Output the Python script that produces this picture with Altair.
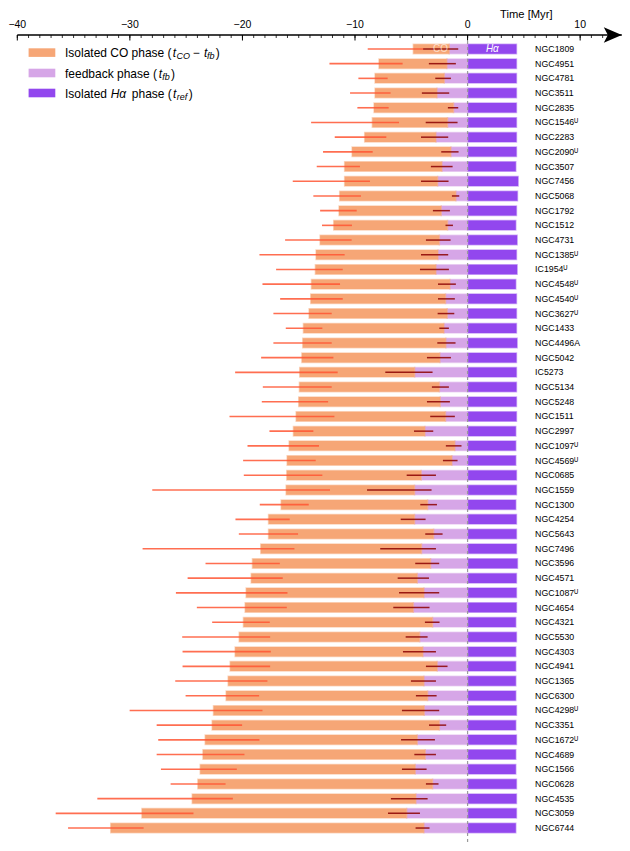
import altair as alt
import pandas as pd

FONT = "Liberation Sans"

names = ["NGC1809", "NGC4951", "NGC4781", "NGC3511", "NGC2835", "NGC1546", "NGC2283", "NGC2090",
         "NGC3507", "NGC7456", "NGC5068", "NGC1792", "NGC1512", "NGC4731", "NGC1385", "IC1954",
         "NGC4548", "NGC4540", "NGC3627", "NGC1433", "NGC4496A", "NGC5042", "IC5273", "NGC5134",
         "NGC5248", "NGC1511", "NGC2997", "NGC1097", "NGC4569", "NGC0685", "NGC1559", "NGC1300",
         "NGC4254", "NGC5643", "NGC7496", "NGC3596", "NGC4571", "NGC1087", "NGC4654", "NGC4321",
         "NGC5530", "NGC4303", "NGC4941", "NGC1365", "NGC6300", "NGC4298", "NGC3351", "NGC1672",
         "NGC4689", "NGC1566", "NGC0628", "NGC4535", "NGC3059", "NGC6744"]
flag_u = {"NGC1546", "NGC2090", "NGC1385", "IC1954", "NGC4548", "NGC4540", "NGC3627",
          "NGC1097", "NGC4569", "NGC1087", "NGC4298", "NGC1672"}

# start of isolated CO phase (= -t_CO)
co_start = [-4.82, -7.87, -8.22, -8.22, -8.31, -8.46, -9.14, -10.26, -10.92, -10.92, -11.36, -11.42,
            -11.89, -13.10, -13.46, -13.52, -13.87, -13.93, -14.08, -14.58, -14.64, -14.72, -14.91,
            -14.94, -15.00, -15.23, -15.47, -15.85, -16.03, -16.06, -16.12, -16.56, -17.68, -17.68,
            -18.37, -19.11, -19.22, -19.67, -19.76, -19.91, -20.29, -20.65, -21.09, -21.27, -21.45,
            -22.57, -22.69, -23.31, -23.51, -23.75, -23.96, -24.46, -28.93, -31.70]
# start of feedback phase (= -t_fb)
fb_start = [-1.63, -1.84, -2.07, -2.72, -1.25, -1.78, -2.81, -1.48, -2.28, -2.66, -1.04, -2.34,
            -1.78, -2.51, -2.63, -2.81, -1.57, -1.96, -1.81, -2.10, -1.93, -2.46, -4.70, -2.51,
            -2.43, -1.96, -3.79, -1.13, -1.39, -4.12, -4.71, -3.55, -4.71, -3.02, -4.09, -3.29,
            -4.47, -3.88, -4.82, -3.11, -4.26, -3.97, -2.70, -3.88, -3.55, -3.85, -2.51, -4.47,
            -3.76, -4.65, -3.11, -4.59, -5.41, -3.88]
# error range of t_CO
co_lo = [-8.87, -12.27, -9.70, -10.44, -9.79, -13.90, -11.80, -12.84, -13.40, -15.53, -13.70, -13.10,
         -12.93, -16.21, -18.49, -17.01, -18.22, -16.65, -17.25, -16.15, -17.25, -18.34, -20.65,
         -18.19, -18.28, -21.15, -17.60, -19.55, -19.94, -19.88, -28.01, -18.46, -20.62, -20.32,
         -28.87, -23.28, -24.87, -25.91, -24.05, -22.69, -25.35, -25.32, -25.32, -25.97, -25.05,
         -30.02, -27.62, -27.48, -27.62, -27.24, -26.38, -32.89, -36.59, -35.49]
co_hi = [-3.90, -5.77, -7.10, -6.84, -7.01, -6.09, -7.22, -8.43, -9.56, -8.67, -9.47, -9.85,
         -10.27, -10.30, -10.92, -11.09, -11.33, -11.09, -12.07, -12.90, -12.07, -11.92, -11.54,
         -12.07, -12.39, -11.83, -13.70, -13.20, -13.49, -12.90, -12.22, -14.11, -15.80, -15.06,
         -15.38, -16.68, -16.42, -16.00, -16.06, -17.57, -17.54, -17.48, -17.54, -17.78, -18.52,
         -18.22, -20.03, -18.49, -19.82, -20.50, -21.50, -20.85, -24.35, -28.78]
# error range of t_fb
fb_lo = [-3.94, -3.44, -2.87, -4.06, -1.75, -3.72, -4.14, -2.34, -3.26, -4.14, -1.39, -3.08,
         -1.96, -3.70, -4.14, -4.23, -2.63, -2.63, -2.66, -2.51, -2.69, -3.61, -7.31, -3.17,
         -3.61, -3.32, -4.76, -1.93, -2.19, -5.41, -8.93, -4.20, -5.94, -3.76, -7.76, -4.65,
         -6.21, -6.09, -6.60, -3.79, -5.50, -5.74, -3.70, -5.03, -4.59, -5.83, -3.43, -5.91,
         -4.73, -5.83, -3.70, -6.81, -7.07, -4.62]
fb_hi = [-0.83, -1.04, -1.48, -1.63, -0.83, -0.89, -1.72, -0.80, -1.33, -1.69, -0.74, -1.57,
         -1.30, -1.51, -1.72, -1.66, -1.04, -1.13, -1.18, -1.66, -1.07, -1.48, -3.11, -1.66,
         -1.57, -1.13, -3.05, -0.54, -0.89, -2.81, -3.20, -2.72, -3.73, -2.22, -2.81, -2.52,
         -3.43, -2.52, -3.38, -2.49, -3.55, -2.81, -1.78, -2.81, -2.75, -2.52, -1.90, -2.90,
         -2.81, -3.64, -2.58, -3.55, -4.23, -3.38]
# isolated H-alpha phase (t_ref)
t_ref = [4.34, 4.34, 4.34, 4.34, 4.34, 4.34, 4.34, 4.34, 4.28, 4.49, 4.43, 4.34,
         4.28, 4.40, 4.34, 4.40, 4.28, 4.34, 4.34, 4.34, 4.40, 4.34, 4.34, 4.34,
         4.34, 4.34, 4.28, 4.28, 4.28, 4.34, 4.34, 4.28, 4.34, 4.34, 4.34, 4.43,
         4.34, 4.34, 4.34, 4.28, 4.34, 4.28, 4.28, 4.28, 4.28, 4.34, 4.28, 4.34,
         4.28, 4.28, 4.34, 4.34, 4.34, 4.28]

X_MIN, X_MAX = -40, 13.7
tick_values = list(range(-40, 14))
major_ticks = [-40, -30, -20, -10, 0, 10]
major_labels = [str(v).replace("-", "\u2212") for v in major_ticks]
axis_title = "Time [Myr]"

labels = [n + ("\u1d41" if n in flag_u else "") for n in names]
df = pd.DataFrame({
    "name": labels, "co_start": co_start, "fb_start": fb_start, "zero": [0.0] * len(names),
    "t_ref": t_ref, "co_lo": co_lo, "co_hi": co_hi, "fb_lo": fb_lo, "fb_hi": fb_hi,
})
one = pd.DataFrame({"k": [0]})
ticks_df = pd.DataFrame({"t": tick_values})
major_df = pd.DataFrame({"t": major_ticks, "lab": major_labels})

ORANGE = "#F6A676"
LILAC = "#D6A6E7"
PURPLE = "#9247EE"
RED = "#FF5533"
DARKRED = "#8B0000"

PLOT_W, PLOT_H = 604.5, 807
xs = alt.Scale(domain=[X_MIN, X_MAX], nice=False, zero=False)
Y = alt.Y("name:N", sort=labels, axis=None, scale=alt.Scale(paddingInner=0, paddingOuter=0.45))


def xf(field):
    return alt.X(field, type="quantitative", scale=xs, axis=None)


def xd(value):
    return alt.XDatum(value, type="quantitative", scale=xs, axis=None)


def yd(value):
    return alt.YDatum(value, type="nominal", axis=None)


base = alt.Chart(df)
bar_kw = dict(size=9.5, strokeWidth=1.5, strokeOpacity=0.45)

hal = base.mark_bar(color=PURPLE, stroke=PURPLE, **bar_kw).encode(
    x=xf("zero"), x2="t_ref:Q", y=Y)
fb = base.mark_bar(color=LILAC, stroke=LILAC, **bar_kw).encode(
    x=xf("fb_start"), x2="zero:Q", y=Y)
co = base.mark_bar(color=ORANGE, stroke=ORANGE, **bar_kw).encode(
    x=xf("co_start"), x2="fb_start:Q", y=Y)
co_err = base.mark_rule(color=RED, strokeWidth=1.6, opacity=0.85).encode(
    x=xf("co_lo"), x2="co_hi:Q", y=Y)
fb_err = base.mark_rule(color=DARKRED, strokeWidth=1.5, opacity=0.85).encode(
    x=xf("fb_lo"), x2="fb_hi:Q", y=Y)
names_txt = base.mark_text(align="left", baseline="middle", font=FONT, fontSize=8.8, color="black").encode(
    x=xd(6.0), y=Y, text="name:N")

zero_line = alt.Chart(one).mark_rule(color="#9a9a9a", strokeDash=[3, 3], strokeWidth=1.2).encode(
    x=xd(0), y=alt.value(0), y2=alt.value(PLOT_H))

# top time axis (drawn by hand so the ticks can point inwards and end in an arrow)
domain = alt.Chart(one).mark_rule(color="black", strokeWidth=1.3).encode(
    x=xd(X_MIN), x2=alt.X2Datum(X_MAX), y=alt.value(0))
minor = alt.Chart(ticks_df).mark_rule(color="black", strokeWidth=0.8).encode(
    x=xf("t"), y=alt.value(0), y2=alt.value(3))
major = alt.Chart(major_df).mark_rule(color="black", strokeWidth=1.0).encode(
    x=xf("t"), y=alt.value(0), y2=alt.value(5.5))
tick_lbl = alt.Chart(major_df).mark_text(font=FONT, fontSize=10.5, color="black", baseline="middle").encode(
    x=xf("t"), y=alt.value(-9.7), text="lab:N")
title = alt.Chart(one).mark_text(font=FONT, fontSize=11.2, color="black", baseline="middle").encode(
    x=alt.value(509), y=alt.value(-20.3), text=alt.value(axis_title))
arrow = alt.Chart(one).mark_point(shape="M1,0L-1,-0.85L-0.55,0L-1,0.85Z", filled=True, color="black",
                                  size=324, opacity=1, xOffset=-9).encode(x=xd(X_MAX), y=alt.value(0))

co_lbl = alt.Chart(one).mark_text(font=FONT, fontSize=10, color="white", opacity=0.6).encode(
    x=xd(-2.4), y=yd(labels[0]), text=alt.value("CO"))
ha_lbl = alt.Chart(one).mark_text(font=FONT, fontSize=10, fontStyle="italic", color="white").encode(
    x=xd(2.2), y=yd(labels[0]), text=alt.value("Hα"))


def piece(text, x, y, size=12, style="normal"):
    return alt.Chart(one).mark_text(align="left", baseline="middle", font=FONT, fontSize=size,
                                    fontStyle=style, color="black").encode(
        x=alt.value(x), y=alt.value(y), text=alt.value(text))


def swatch(color, y0, y1):
    return alt.Chart(one).mark_rect(color=color).encode(
        x=alt.value(11.3), x2=alt.value(38), y=alt.value(y0), y2=alt.value(y1))


legend = [
    swatch(ORANGE, 13.3, 21.9), swatch(LILAC, 33.7, 42.3), swatch(PURPLE, 53.7, 62.3),
    piece("Isolated CO phase (", 47.7, 18), piece("t", 155.4, 18, style="italic"),
    piece("CO", 159.2, 21, 9, "italic"), piece("−", 175.4, 18), piece("t", 186.7, 18, style="italic"),
    piece("fb", 189.7, 21, 9, "italic"), piece(")", 198.5, 18),
    piece("feedback phase (", 47.7, 38.7), piece("t", 141.5, 38.7, style="italic"),
    piece("fb", 145.0, 41.7, 9, "italic"), piece(")", 153.8, 38.7),
    piece("Isolated", 47.7, 58.7), piece("Hα", 93.4, 58.7, style="italic"), piece("phase (", 114.5, 58.7),
    piece("t", 155.7, 58.7, style="italic"), piece("ref", 159.4, 61.7, 9, "italic"), piece(")", 171.5, 58.7),
]

chart = alt.layer(
    hal, fb, co, co_err, fb_err, zero_line, names_txt, co_lbl, ha_lbl,
    domain, minor, major, tick_lbl, title, arrow, *legend
).properties(
    width=PLOT_W, height=PLOT_H, background="white",
    autosize=alt.AutoSizeParams(type="none"),
    padding={"left": 9.3, "top": 27, "right": 0, "bottom": 1},
).configure_view(stroke=None)

chart.save("out.html", embed_options={"renderer": "svg", "actions": False})
